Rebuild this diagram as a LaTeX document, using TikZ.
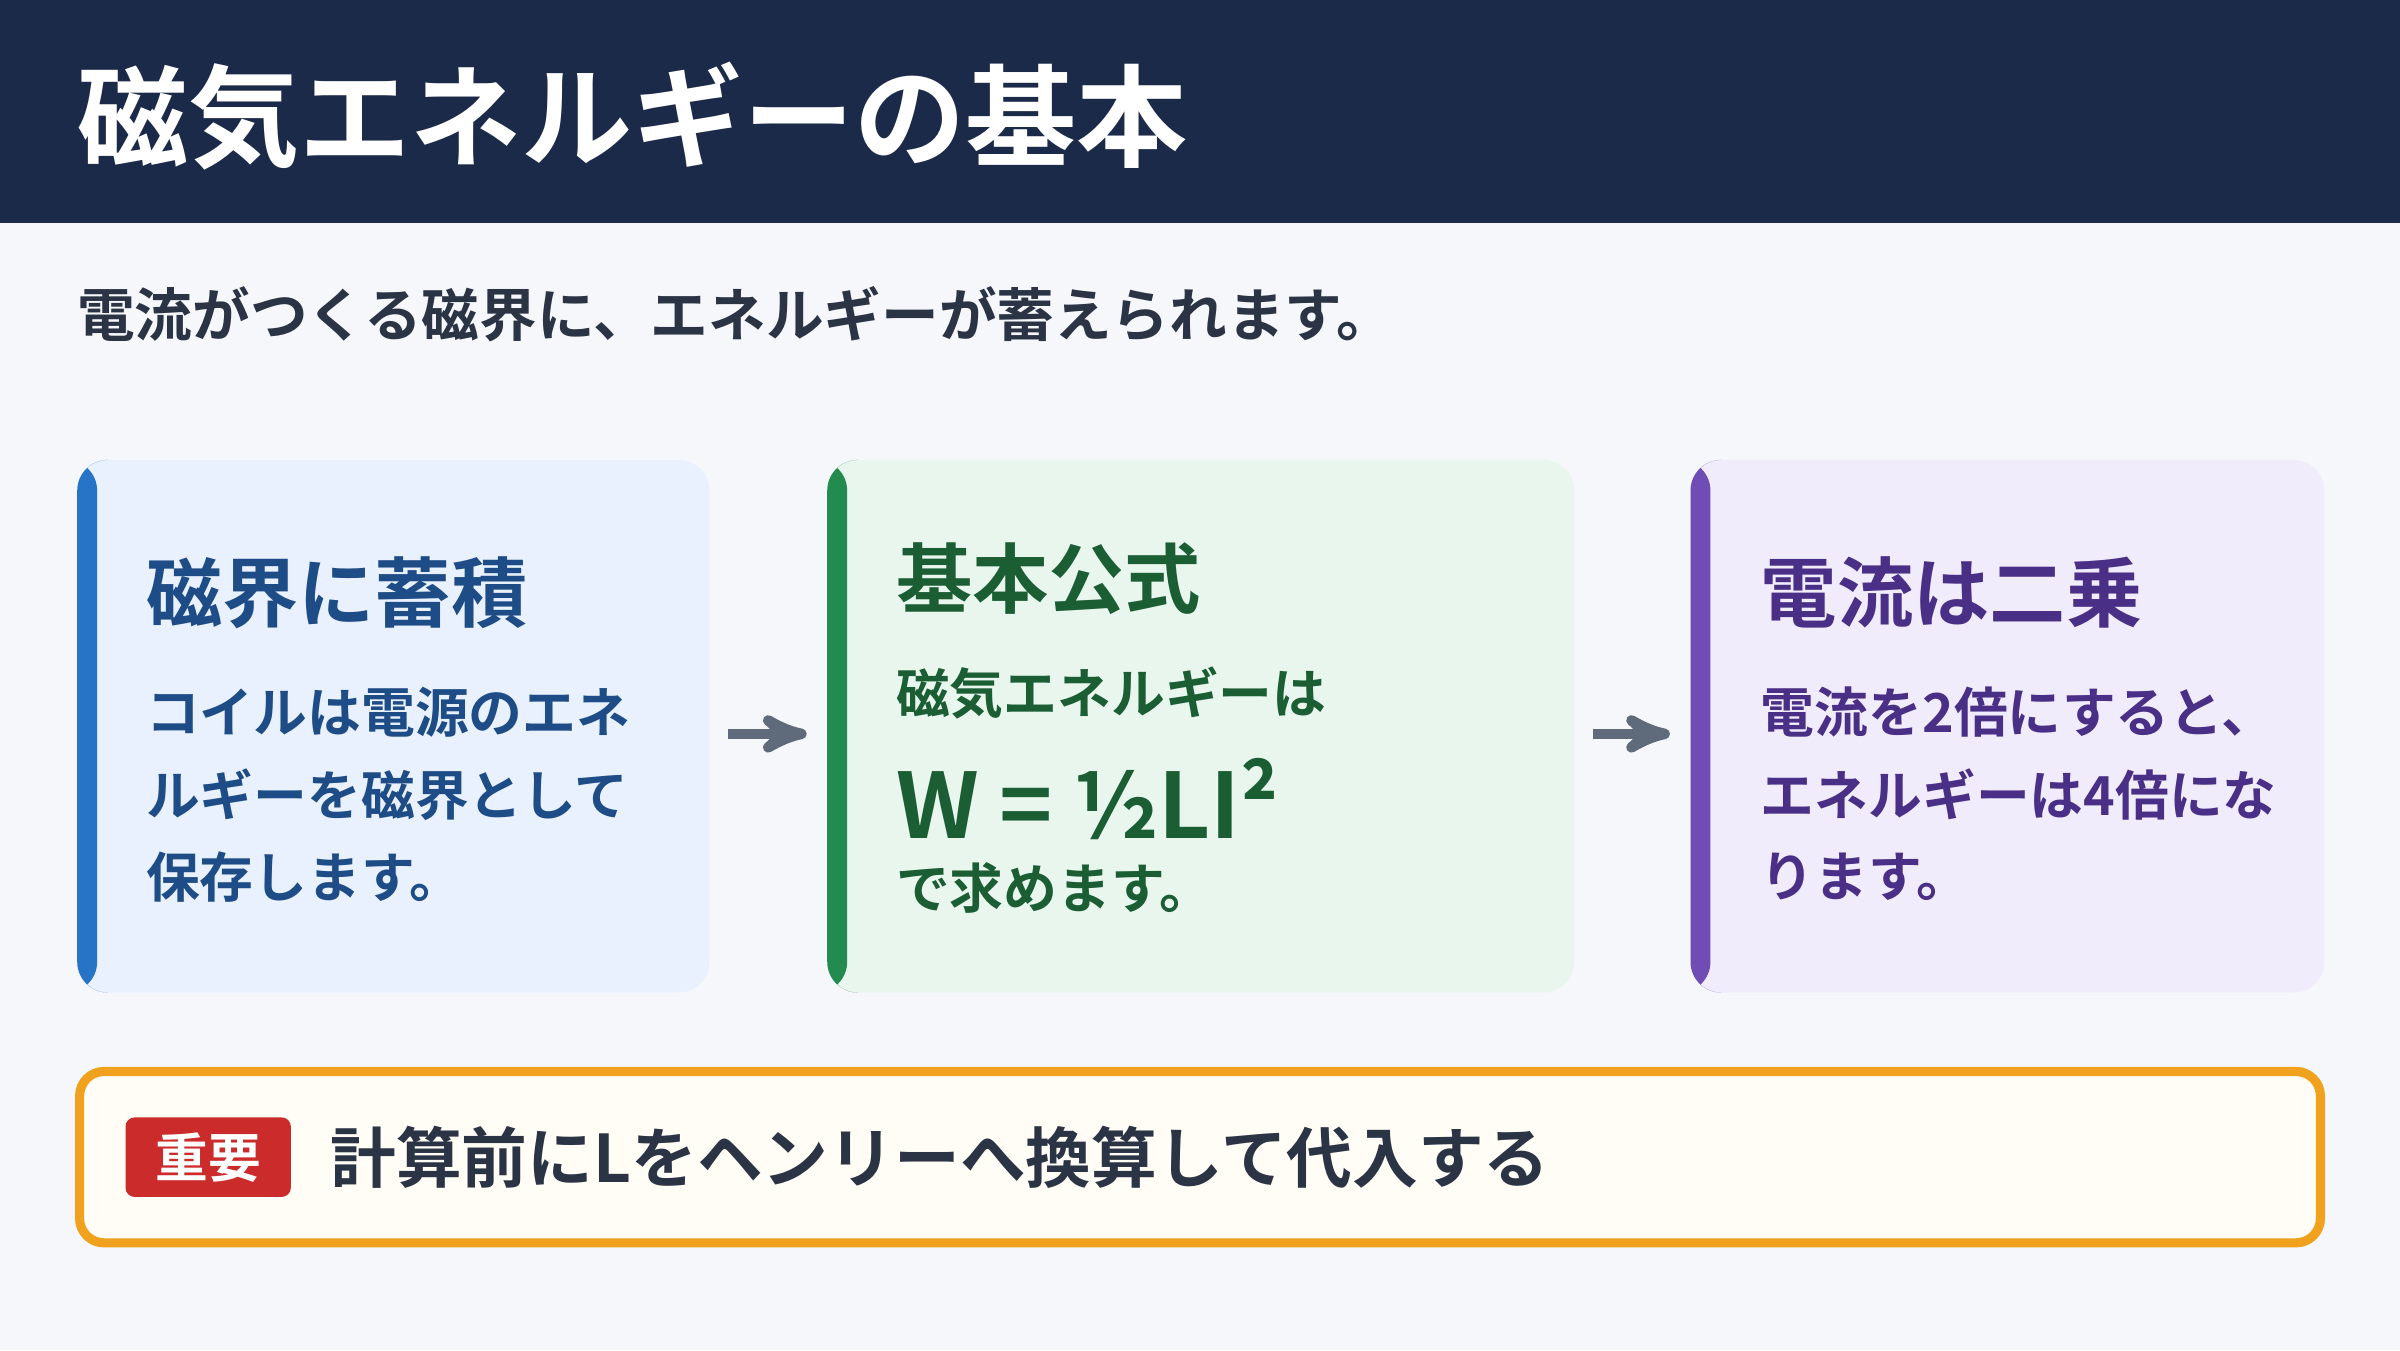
\documentclass[tikz,border=0pt]{standalone}
\usepackage{fontspec}
\setmainfont{Noto Sans CJK JP}[BoldFont={Noto Sans CJK JP Bold}]
\usetikzlibrary{calc}
\usetikzlibrary{arrows}
\usetikzlibrary{positioning}
\definecolor{navy}{HTML}{1C2A4A}
\definecolor{paper}{HTML}{F5F7FB}
\definecolor{ink}{HTML}{2B3445}
\definecolor{blueBar}{HTML}{2774C6}
\definecolor{blueFill}{HTML}{E8F1FD}
\definecolor{blueInk}{HTML}{1E4C86}
\definecolor{greenBar}{HTML}{238A50}
\definecolor{greenFill}{HTML}{E9F6EE}
\definecolor{greenInk}{HTML}{1C5E34}
\definecolor{violetBar}{HTML}{6F4DB5}
\definecolor{violetFill}{HTML}{F1ECFC}
\definecolor{violetInk}{HTML}{4A2F86}
\definecolor{arrowGray}{HTML}{5F6B7A}
\definecolor{orangeLine}{HTML}{F0A21F}
\definecolor{noteFill}{HTML}{FFFDF5}
\definecolor{tagRed}{HTML}{CC2B2B}
\newcommand{\px}{0.015306cm}
\tikzset{
  card/.style n args={2}{draw=none, fill=#2, rounded corners=20*\px, anchor=north west,
    minimum height=348*\px, inner sep=0pt,
    path picture={\fill[#1] (path picture bounding box.north west) rectangle
      ($(path picture bounding box.south west)+(13*\px,0)$);}},
  head/.style={anchor=west, inner sep=0pt, font=\bfseries\fontsize{21.7pt}{26pt}\selectfont},
  body/.style={anchor=west, inner sep=0pt, font=\bfseries\fontsize{15.3pt}{18pt}\selectfont},
  arr/.style={arrowGray, line width=3pt, ->, >=stealth', shorten <=12*\px, shorten >=13*\px},
}
\begin{document}
\begin{tikzpicture}[x=\px, y=-\px]
\useasboundingbox (0,0) rectangle (1568,882);
\fill[paper] (0,0) rectangle (1568,882);
\fill[navy] (0,0) rectangle (1568,146);
\node[anchor=west, inner sep=0pt, white, font=\bfseries\fontsize{31.6pt}{36pt}\selectfont] (title) at (50,76) {磁気エネルギーの基本};
\node[anchor=west, inner sep=0pt, ink, font=\bfseries\fontsize{16.4pt}{19pt}\selectfont] (lead) at (50,205) {電流がつくる磁界に、エネルギーが蓄えられます。};

% three cards
\node[card={blueBar}{blueFill}, minimum width=413*\px] (store) at (50,300) {};
\node[card={greenBar}{greenFill}, minimum width=488*\px] (formula) at (540,300) {};
\node[card={violetBar}{violetFill}, minimum width=414*\px] (square) at (1104,300) {};
\draw[arr] ([yshift=-5*\px]store.east) -- ([yshift=-5*\px]formula.west);
\draw[arr] ([yshift=-5*\px]formula.east) -- ([yshift=-5*\px]square.west);

\node[head, blueInk] (storeHead) at (95,387) {磁界に蓄積};
\node[body, blueInk] at (95,465) {コイルは電源のエネ};
\node[body, blueInk] at (95,519) {ルギーを磁界として};
\node[body, blueInk] at (95,573) {保存します。};

\node[head, greenInk] (formulaHead) at (585,378) {基本公式};
\node[body, greenInk] at (585,453) {磁気エネルギーは};
\node[anchor=west, inner sep=0pt, greenInk, font=\bfseries\fontsize{25.7pt}{30pt}\selectfont] (eq) at (585,522) {W = ½LI²};
\node[body, greenInk] at (585,580) {で求めます。};

\node[head, violetInk] (squareHead) at (1150,387) {電流は二乗};
\node[body, violetInk] at (1150,465) {電流を2倍にすると、};
\node[body, violetInk] at (1150,519) {エネルギーは4倍にな};
\node[body, violetInk] at (1150,573) {ります。};

% note
\draw[orangeLine, line width=2.6pt, fill=noteFill, rounded corners=16*\px] (52,700) rectangle (1516,812);
\node[fill=tagRed, text=white, rounded corners=6*\px, minimum width=108*\px, minimum height=52*\px,
  inner sep=0pt, font=\bfseries\fontsize{15pt}{18pt}\selectfont] (tag) at (136,756) {重要};
\node[anchor=west, inner sep=0pt, ink, font=\bfseries\fontsize{18.7pt}{22pt}\selectfont, right=25*\px of tag] (note) {計算前にLをヘンリーへ換算して代入する};
\end{tikzpicture}
\end{document}
